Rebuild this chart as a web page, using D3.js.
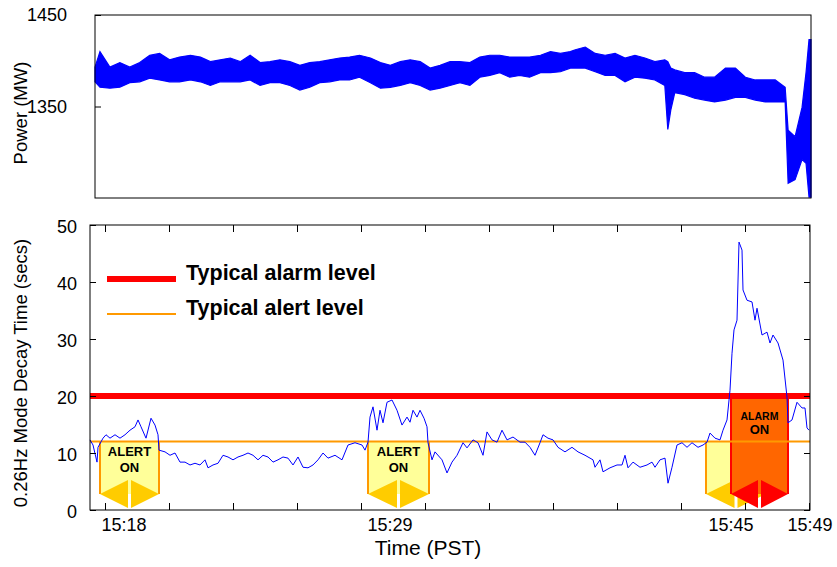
<!DOCTYPE html>
<html>
<head>
<meta charset="utf-8">
<script src="https://cdn.jsdelivr.net/npm/d3@7"></script>
<style>
  body { margin: 0; background: #fff; }
  svg text { font-family: Arial, "Liberation Sans", sans-serif; }
</style>
</head>
<body>
<svg id="chart" width="837" height="567"></svg>
<script>
// Top panel: power (MW), upper / lower envelope of the noisy trace, by sample index
const powerIdx = [0, 5, 15, 25, 35, 45, 55, 65, 75, 85, 96, 106, 116, 126, 136, 146, 156, 166, 176, 186,
  196, 206, 216, 226, 236, 246, 256, 266, 277, 287, 297, 307, 317, 327, 337, 347, 357, 367, 377, 387,
  397, 407, 417, 427, 437, 448, 458, 468, 478, 483, 493, 503, 513, 523, 533, 543, 553, 563, 573, 576,
  579, 583, 593, 603, 613, 623, 634, 644, 654, 664, 674, 684, 694, 697, 704, 711, 715, 718, 720];
const powerHigh = [1393, 1410, 1393, 1398, 1393, 1398, 1406, 1408, 1401, 1404, 1406, 1404, 1399, 1401, 1403, 1399, 1406, 1398, 1399, 1401,
  1399, 1395, 1398, 1399, 1401, 1403, 1404, 1406, 1403, 1398, 1395, 1399, 1401, 1399, 1392, 1395, 1399, 1399, 1398, 1404,
  1406, 1406, 1404, 1404, 1404, 1406, 1410, 1408, 1410, 1412, 1415, 1408, 1406, 1408, 1403, 1406, 1403, 1399, 1401, 1399,
  1392, 1390, 1387, 1387, 1382, 1382, 1392, 1392, 1382, 1379, 1379, 1379, 1371, 1324, 1317, 1349, 1387, 1423, 1423];
const powerLow = [1377, 1371, 1370, 1371, 1376, 1377, 1381, 1379, 1377, 1377, 1379, 1377, 1373, 1377, 1377, 1377, 1379, 1373, 1376, 1376,
  1373, 1368, 1371, 1376, 1377, 1379, 1379, 1382, 1376, 1370, 1371, 1373, 1376, 1373, 1368, 1370, 1373, 1376, 1373, 1382,
  1384, 1387, 1382, 1384, 1382, 1387, 1387, 1388, 1392, 1392, 1392, 1388, 1384, 1384, 1377, 1382, 1381, 1379, 1373, 1325,
  1346, 1365, 1363, 1359, 1357, 1355, 1357, 1360, 1360, 1357, 1355, 1355, 1355, 1266, 1270, 1292, 1288, 1251, 1251];

// Bottom panel: 0.26Hz mode decay time (secs), by sample index
const decayIdx = [0, 3, 7, 8, 13, 16, 20, 25, 30, 35, 40, 45, 48, 51, 56, 61, 65, 68, 69, 75,
  80, 85, 90, 95, 100, 105, 110, 115, 118, 123, 128, 133, 138, 143, 148, 153, 158, 163, 168, 173,
  178, 183, 188, 193, 198, 203, 208, 213, 218, 223, 228, 233, 238, 245, 252, 258, 265, 272, 275, 278,
  280, 283, 287, 290, 293, 297, 302, 307, 312, 317, 320, 323, 327, 330, 334, 337, 338, 342, 345, 352,
  357, 362, 367, 373, 377, 383, 388, 393, 397, 402, 407, 412, 417, 423, 430, 435, 440, 445, 450, 453,
  458, 463, 468, 475, 482, 488, 495, 500, 503, 505, 510, 513, 520, 527, 532, 535, 538, 543, 550, 557,
  562, 565, 570, 575, 578, 582, 587, 592, 597, 602, 608, 613, 617, 620, 625, 630, 633, 637, 640, 642,
  644, 647, 649, 652, 653, 657, 662, 665, 667, 672, 677, 680, 683, 688, 693, 697, 698, 702, 707, 712,
  715, 717, 719];
const decayVal = [12.3, 11.4, 8.4, 11, 12.6, 13.2, 12.6, 13.2, 12.6, 13.2, 14, 14.6, 15.8, 14.6, 12.6, 16.1, 14.9, 13.2, 10.5, 10.2,
  9.6, 10, 8.4, 8.4, 7.9, 8.2, 7.9, 8.8, 7.4, 7.9, 8.2, 9.6, 9.3, 8.8, 9.3, 9.6, 10, 9.6, 8.8, 9.6,
  9.3, 8.4, 8.8, 9.3, 9.1, 7.9, 9.3, 7.5, 7.4, 7.9, 8.8, 10, 9.1, 9.6, 8.8, 11.4, 11.8, 11.4, 10.5, 11.9,
  16.3, 18.1, 14, 17.5, 15.3, 18.9, 19.3, 17.5, 14.9, 16.3, 15.4, 17.5, 16.3, 17.5, 16.1, 14.6, 11.8, 8.8, 10.2, 8.8,
  6.5, 8.4, 9.6, 11.8, 10.9, 12.3, 11.8, 9.6, 13.7, 12.3, 11.9, 14, 12.3, 12.8, 11.9, 11.9, 11, 9.6, 11.8, 13.2,
  12.6, 12.3, 11, 10.2, 11, 10.2, 9.6, 9.1, 8.8, 7.5, 8.8, 6.7, 7.4, 7.9, 7.9, 9.6, 7.4, 8.4, 7.5, 7.9,
  8.4, 7.5, 8.8, 9.1, 4.7, 7.5, 11.4, 11.8, 11, 11.8, 11, 11.4, 11.9, 13.5, 12.6, 12.3, 14, 15.8, 21, 27.5,
  31.6, 33.3, 47, 45.6, 38.6, 36.8, 36.5, 33.3, 35.4, 30.7, 31.2, 29.3, 30.7, 29.3, 26.3, 19.8, 15.3, 15.8, 18.9, 17.9,
  17.9, 14.4, 14];

const alertLevel = 12;
const alarmLevel = 20;

// alert / alarm periods (sample index)
const eventKind = ["alert", "alert", "alert", "alarm"];
const eventStart = [10, 278, 616, 641];
const eventEnd = [69, 339, 676, 698];
const eventText = [["ALERT", "ON"], ["ALERT", "ON"], [], ["ALARM", "ON"]];

const powerTicks = [1350, 1450];
const decayTicks = [0, 10, 20, 30, 40, 50];
const xTickIdx = [15, 79, 143, 207, 271, 335, 399, 463, 527, 591, 655, 719];
const timeLabels = ["15:18", "15:29", "15:45", "15:49"];
const timeLabelIdx = [34, 300, 641, 720];

const svg = d3.select("#chart");

// ---------- top panel ----------
const pTop = {left: 95, right: 811, top: 15, bottom: 198};
const xTop = d3.scaleLinear().domain([0, 720]).range([pTop.left, pTop.right]);
const yTop = d3.scaleLinear().domain([1250, 1450]).range([pTop.bottom, pTop.top]);

const powerData = powerIdx.map((s, i) => ({s: s, hi: powerHigh[i], lo: powerLow[i]}));

svg.append("path")
    .datum(powerData)
    .attr("d", d3.area().x(d => xTop(d.s)).y0(d => yTop(d.lo)).y1(d => yTop(d.hi)))
    .attr("fill", "#0000ff")
    .attr("stroke", "#0000ff")
    .attr("stroke-width", 1.2);

svg.append("rect")
    .attr("x", pTop.left).attr("y", pTop.top)
    .attr("width", pTop.right - pTop.left).attr("height", pTop.bottom - pTop.top)
    .attr("fill", "none").attr("stroke", "#000").attr("stroke-width", 1);

const gTopY = svg.append("g")
    .attr("transform", `translate(${pTop.left},0)`)
    .call(d3.axisLeft(yTop).tickValues(powerTicks).tickFormat(d3.format("d")).tickSize(-6).tickPadding(28));
gTopY.select(".domain").remove();
gTopY.attr("font-family", null).attr("font-size", null);
gTopY.selectAll("text").attr("font-size", 18).attr("fill", "#000");

svg.append("text")
    .attr("transform", `translate(27, 113) rotate(-90)`)
    .attr("text-anchor", "middle")
    .attr("font-size", 18.5)
    .text("Power (MW)");

// ---------- bottom panel ----------
const pBot = {left: 90, right: 810, top: 225, bottom: 510};
const x = d3.scaleLinear().domain([0, 720]).range([pBot.left, pBot.right]);
const y = d3.scaleLinear().domain([0, 50]).range([pBot.bottom, pBot.top]);

// alert / alarm boxes
const boxBottom = y(0) - 16;
eventKind.forEach((kind, i) => {
    const x0 = x(eventStart[i]), x1 = x(eventEnd[i]), xc = (x0 + x1) / 2;
    const yb = y(kind === "alarm" ? alarmLevel : alertLevel);
    const fill = kind === "alarm" ? "#ff6600" : "#ffff99";
    const edge = kind === "alarm" ? "#ff0000" : "#ff9900";
    const arrow = kind === "alarm" ? "#ff0000" : "#ffcc00";
    const g = svg.append("g");

    g.append("rect")
        .attr("x", x0).attr("y", yb)
        .attr("width", x1 - x0).attr("height", boxBottom - yb)
        .attr("fill", fill);
    [x0, x1].forEach(xe => {
        g.append("line")
            .attr("x1", xe).attr("x2", xe).attr("y1", yb).attr("y2", boxBottom)
            .attr("stroke", edge).attr("stroke-width", 2);
    });
    // double arrow at the foot of the box
    g.append("polygon")
        .attr("points", [[x0, boxBottom], [xc - 1.5, boxBottom - 14], [xc - 1.5, boxBottom + 14]].join(" "))
        .attr("fill", arrow);
    g.append("polygon")
        .attr("points", [[x1, boxBottom], [xc + 1.5, boxBottom - 14], [xc + 1.5, boxBottom + 14]].join(" "))
        .attr("fill", arrow);

    if (eventText[i].length) {
        const alarm = kind === "alarm";
        g.append("text")
            .attr("x", xc).attr("y", yb + (alarm ? 24 : 14))
            .attr("text-anchor", "middle").attr("font-weight", "bold")
            .attr("font-size", alarm ? 10.5 : 13)
            .text(eventText[i][0]);
        g.append("text")
            .attr("x", xc).attr("y", yb + (alarm ? 38 : 30))
            .attr("text-anchor", "middle").attr("font-weight", "bold")
            .attr("font-size", 13)
            .text(eventText[i][1]);
    }
});

// level lines
svg.append("line")
    .attr("x1", pBot.left).attr("x2", pBot.right)
    .attr("y1", y(alarmLevel)).attr("y2", y(alarmLevel))
    .attr("stroke", "#ff0000").attr("stroke-width", 6);
svg.append("line")
    .attr("x1", pBot.left).attr("x2", pBot.right)
    .attr("y1", y(alertLevel)).attr("y2", y(alertLevel))
    .attr("stroke", "#ff9900").attr("stroke-width", 2);

// decay time trace
const decayData = decayIdx.map((s, i) => ({s: s, v: decayVal[i]}));
svg.append("path")
    .datum(decayData)
    .attr("d", d3.line().x(d => x(d.s)).y(d => y(d.v)))
    .attr("fill", "none")
    .attr("stroke", "#0000ff")
    .attr("stroke-width", 1);

// frame and axes
svg.append("rect")
    .attr("x", pBot.left).attr("y", pBot.top)
    .attr("width", pBot.right - pBot.left).attr("height", pBot.bottom - pBot.top)
    .attr("fill", "none").attr("stroke", "#000").attr("stroke-width", 1);

const gY = svg.append("g")
    .attr("transform", `translate(${pBot.left},0)`)
    .call(d3.axisLeft(y).tickValues(decayTicks).tickSize(-6).tickPadding(13));
gY.select(".domain").remove();
gY.attr("font-family", null).attr("font-size", null);
gY.selectAll("text").attr("font-size", 18).attr("fill", "#000").attr("dy", "0.42em");

const gY2 = svg.append("g")
    .attr("transform", `translate(${pBot.right},0)`)
    .call(d3.axisRight(y).tickValues(decayTicks).tickSize(-6).tickFormat(""));
gY2.select(".domain").remove();

const gX = svg.append("g")
    .attr("transform", `translate(0,${pBot.bottom})`)
    .call(d3.axisBottom(x).tickValues(xTickIdx).tickSize(-7).tickFormat(""));
gX.select(".domain").remove();

const gX2 = svg.append("g")
    .attr("transform", `translate(0,${pBot.top})`)
    .call(d3.axisTop(x).tickValues(xTickIdx).tickSize(-7).tickFormat(""));
gX2.select(".domain").remove();

svg.selectAll(".tick line").attr("stroke", "#000");

svg.selectAll(".time-label")
    .data(timeLabels)
    .enter().append("text")
    .attr("class", "time-label")
    .attr("x", (d, i) => x(timeLabelIdx[i]))
    .attr("y", 531)
    .attr("text-anchor", "middle")
    .attr("font-size", 18)
    .text(d => d);

svg.append("text")
    .attr("x", 428).attr("y", 555)
    .attr("text-anchor", "middle")
    .attr("font-size", 21)
    .text("Time (PST)");

svg.append("text")
    .attr("transform", `translate(27, 373) rotate(-90)`)
    .attr("text-anchor", "middle")
    .attr("font-size", 18.5)
    .text("0.26Hz Mode Decay Time (secs)");

// legend
const legendRows = [
    {label: "Typical alarm level", color: "#ff0000", width: 6, y: 279},
    {label: "Typical alert level", color: "#ff9900", width: 2, y: 314}
];
legendRows.forEach(r => {
    svg.append("line")
        .attr("x1", 107).attr("x2", 176).attr("y1", r.y).attr("y2", r.y)
        .attr("stroke", r.color).attr("stroke-width", r.width);
    svg.append("text")
        .attr("x", 186).attr("y", r.y + 1)
        .attr("font-size", 21.5).attr("font-weight", "bold")
        .text(r.label);
});
</script>
</body>
</html>
